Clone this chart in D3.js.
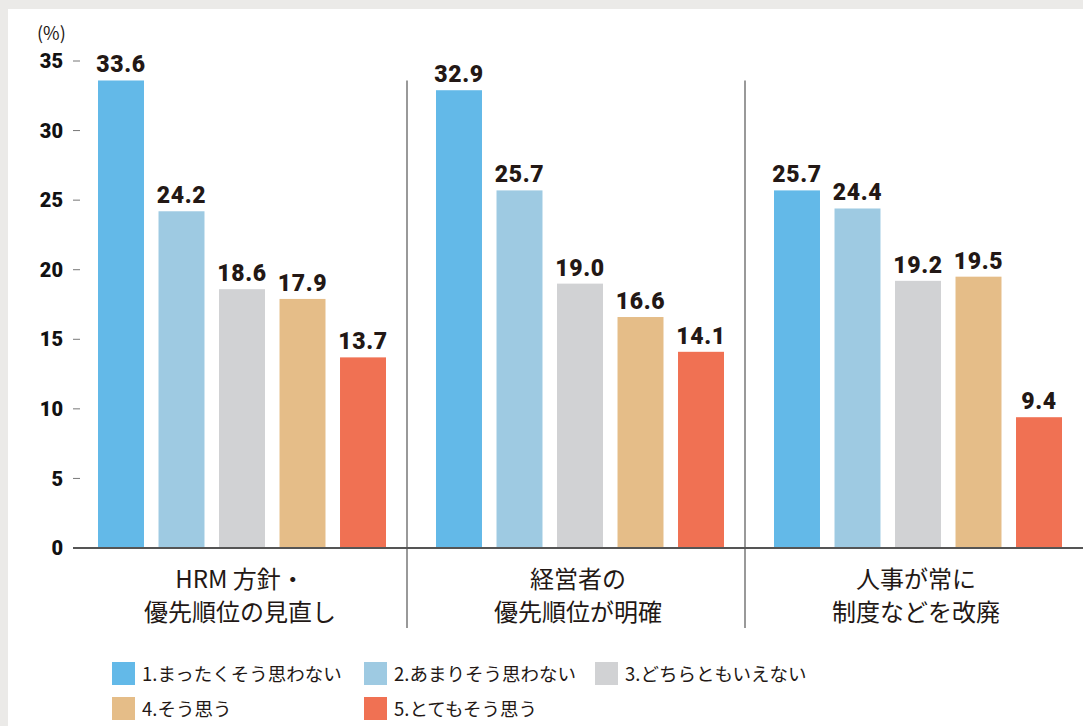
<!DOCTYPE html>
<html>
<head>
<meta charset="utf-8">
<script src="https://cdn.jsdelivr.net/npm/d3@7"></script>
<style>
  html, body { margin: 0; padding: 0; background: #ebeae8; }
  svg { display: block; }
  .tick-label { font-family: "Roboto", "Liberation Sans", sans-serif; font-weight: 900; fill: #111; }
  .value { font-family: "Roboto", "Liberation Sans", sans-serif; font-weight: 900; fill: #231815; }
  .cat { font-family: "Noto Sans CJK JP", sans-serif; fill: #231815; }
  .legend text { font-family: "Noto Sans CJK JP", sans-serif; fill: #231815; }
</style>
</head>
<body>
<div id="chart"></div>
<script>
(function (d3) {
    'use strict';

    var groups = ['HRM 方針・\n優先順位の見直し', '経営者の\n優先順位が明確', '人事が常に\n制度などを改廃'];
    var answers = ['1.まったくそう思わない', '2.あまりそう思わない', '3.どちらともいえない', '4.そう思う', '5.とてもそう思う'];
    var values = [
        [33.6, 24.2, 18.6, 17.9, 13.7],
        [32.9, 25.7, 19.0, 16.6, 14.1],
        [25.7, 24.4, 19.2, 19.5, 9.4]
    ];
    var yTicks = [0, 5, 10, 15, 20, 25, 30, 35];
    var colors = ['#63b9e8', '#9ecae2', '#d1d2d4', '#e5bd88', '#f07153'];

    var W = 1083, H = 726;

    var svg = d3.select('#chart').append('svg')
        .attr('width', W)
        .attr('height', H);

    // white panel
    svg.append('rect')
        .attr('x', 8).attr('y', 9)
        .attr('width', W - 8).attr('height', H - 9)
        .attr('fill', '#fff');

    var x0 = d3.scaleBand().domain(d3.range(groups.length)).range([73, 1087]);
    var x1 = d3.scaleBand().domain(d3.range(answers.length)).range([25, 313]).paddingInner(0.24);
    var y = d3.scaleLinear().domain([0, 35]).range([548, 61]);

    // y axis
    var yAxis = svg.append('g');
    yAxis.selectAll('line')
        .data(yTicks.filter(function (d) { return d > 0; }))
        .enter().append('line')
        .attr('x1', 73).attr('x2', 80)
        .attr('y1', function (d) { return y(d); })
        .attr('y2', function (d) { return y(d); })
        .attr('stroke', '#777').attr('stroke-width', 1);
    yAxis.selectAll('text')
        .data(yTicks)
        .enter().append('text')
        .attr('class', 'tick-label')
        .attr('x', 63)
        .attr('y', function (d) { return y(d); })
        .attr('dy', '0.36em')
        .attr('text-anchor', 'end')
        .attr('font-size', 20)
        .text(function (d) { return d; });

    svg.append('text')
        .attr('x', 37).attr('y', 40)
        .attr('font-family', '"Noto Sans CJK JP", sans-serif')
        .attr('font-size', 18)
        .attr('fill', '#231815')
        .text('(%)');

    // separators between groups
    svg.selectAll('.sep')
        .data([1, 2])
        .enter().append('line')
        .attr('class', 'sep')
        .attr('x1', function (d) { return x0(d) - 4; })
        .attr('x2', function (d) { return x0(d) - 4; })
        .attr('y1', y(33.6))
        .attr('y2', 628)
        .attr('stroke', '#777').attr('stroke-width', 1.5);

    // bars
    var g = svg.selectAll('.group')
        .data(values)
        .enter().append('g')
        .attr('class', 'group')
        .attr('transform', function (d, i) { return 'translate(' + x0(i) + ',0)'; });

    g.selectAll('rect')
        .data(function (d) { return d; })
        .enter().append('rect')
        .attr('x', function (d, i) { return x1(i); })
        .attr('y', function (d) { return y(d); })
        .attr('width', x1.bandwidth())
        .attr('height', function (d) { return y(0) - y(d); })
        .attr('fill', function (d, i) { return colors[i]; });

    g.selectAll('.value')
        .data(function (d) { return d; })
        .enter().append('text')
        .attr('class', 'value')
        .attr('x', function (d, i) { return x1(i) + x1.bandwidth() / 2; })
        .attr('y', function (d) { return y(d) - 8; })
        .attr('text-anchor', 'middle')
        .attr('font-size', 23)
        .attr('letter-spacing', 0.6)
        .text(function (d) { return d.toFixed(1); });

    // baseline
    svg.append('line')
        .attr('x1', 73).attr('x2', W)
        .attr('y1', y(0)).attr('y2', y(0))
        .attr('stroke', '#555').attr('stroke-width', 2);

    // category labels, one text per line
    var catLines = [];
    groups.forEach(function (d, i) {
        d.split('\n').forEach(function (line, j) {
            catLines.push({ group: i, row: j, text: line });
        });
    });
    svg.selectAll('.cat')
        .data(catLines)
        .enter().append('text')
        .attr('class', 'cat')
        .attr('text-anchor', 'middle')
        .attr('font-size', 24)
        .attr('x', function (d) { return x0(d.group) + x0.bandwidth() / 2 - 2; })
        .attr('y', function (d) { return 588 + d.row * 33; })
        .text(function (d) { return d.text; });

    // legend
    var legendPos = [[112, 662], [364, 662], [595, 662], [112, 697], [364, 697]];
    var legend = svg.append('g').attr('class', 'legend');
    var item = legend.selectAll('g')
        .data(answers)
        .enter().append('g')
        .attr('transform', function (d, i) { return 'translate(' + legendPos[i][0] + ',' + legendPos[i][1] + ')'; });
    item.append('rect')
        .attr('width', 23).attr('height', 23)
        .attr('fill', function (d, i) { return colors[i]; });
    item.append('text')
        .attr('x', 30).attr('y', 12)
        .attr('dy', '0.36em')
        .attr('font-size', 18.5)
        .text(function (d) { return d; });
})(d3);
</script>
</body>
</html>
